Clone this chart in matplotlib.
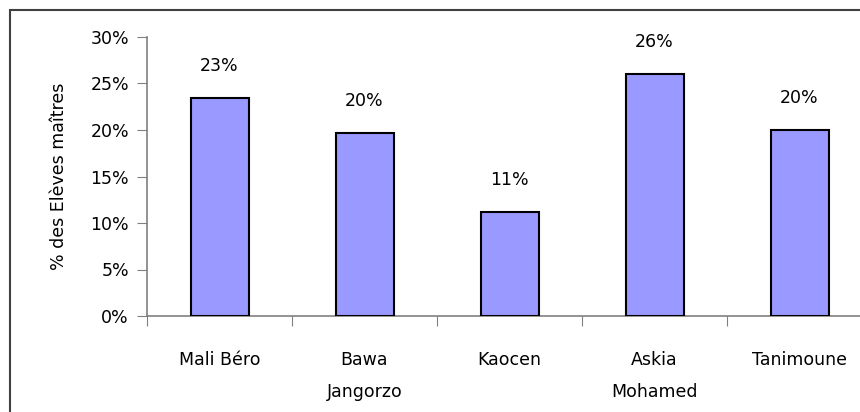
import matplotlib.pyplot as plt
from matplotlib.patches import Rectangle

categories = ['Mali Béro', 'Bawa\nJangorzo', 'Kaocen', 'Askia\nMohamed', 'Tanimoune']
values = [23.4, 19.7, 11.2, 26.0, 20.0]
yticks = [0, 5, 10, 15, 20, 25, 30]

fs = 12.5
fig = plt.figure(figsize=(8.6, 4.12), dpi=100)
# chart frame (cropped on the right and bottom like the original)
fig.patches.append(Rectangle((10 / 860, -0.1), 1.1, (412 - 10) / 412 + 0.1,
                             transform=fig.transFigure, fill=False,
                             edgecolor='#404040', linewidth=1.5))

ax = fig.add_axes([147 / 860, 96 / 412, 725 / 860, 279 / 412])
x = list(range(len(categories)))
ax.bar(x, values, width=0.4, color='#9999FF', edgecolor='black', linewidth=1.5, zorder=3)
for xi, v in zip(x, values):
    ax.annotate(f'{v:.0f}%', (xi, v), xytext=(0, 23), textcoords='offset points',
                ha='center', va='center', fontsize=fs)

ax.set_xlim(-0.5, len(categories) - 0.5)
ax.set_ylim(0, 30)
ax.set_yticks(yticks)
ax.set_yticklabels([f'{t}%' for t in yticks], fontsize=fs)
ax.set_xticks([i + 0.5 for i in range(-1, len(categories))])
ax.set_xticklabels([])
ax.set_xticks(x, minor=True)
ax.set_xticklabels(categories, minor=True, fontsize=fs, linespacing=2.0, va='top')
ax.tick_params(axis='x', which='minor', length=0, pad=25)
ax.tick_params(axis='x', which='major', length=7, color='#808080', direction='out')
ax.tick_params(axis='y', length=7, color='#808080', direction='out', pad=6)

for s in ['top', 'right']:
    ax.spines[s].set_visible(False)
for s in ['left', 'bottom']:
    ax.spines[s].set_color('#808080')
    ax.spines[s].set_linewidth(1.2)

ax.set_ylabel('% des Elèves maîtres', fontsize=fs, labelpad=16)
fig.savefig('out.png', dpi=100)
